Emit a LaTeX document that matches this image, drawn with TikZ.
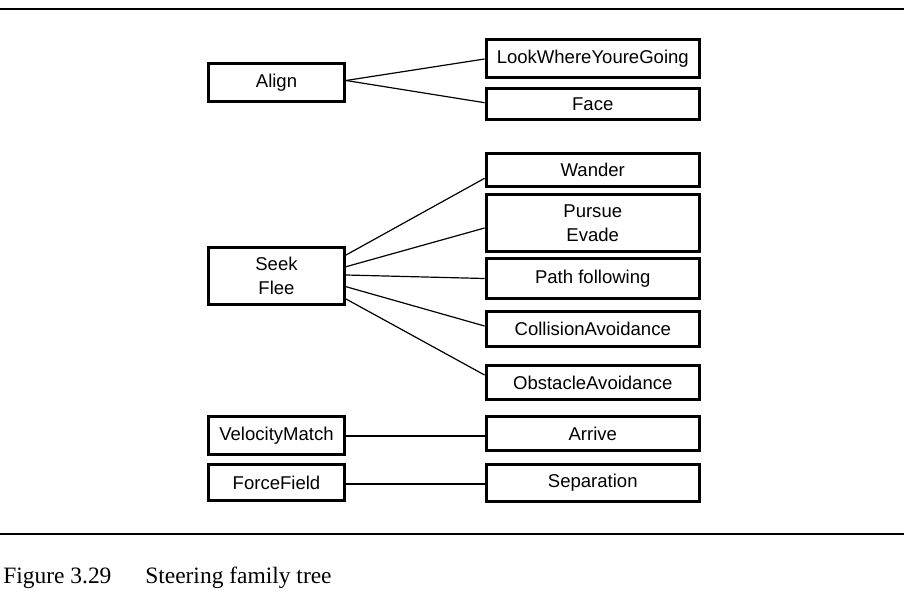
\documentclass[tikz,border=0pt]{standalone}
\usepackage{fontspec}
\setmainfont{Liberation Serif}
\newfontfamily\famfont{Liberation Sans}
\usetikzlibrary{calc}

\begin{document}
\begin{tikzpicture}[x=0.75pt,y=0.75pt,yscale=-1,
  fambox/.style={draw, line width=2.5pt, inner sep=0.75pt, align=center,
    font=\famfont\fontsize{13.9}{17.6}\selectfont},
  famleft/.style={fambox, minimum width=101.8pt},
  famright/.style={fambox, minimum width=159.8pt},
  famlink/.style={line width=0.9pt}]
\useasboundingbox (0,0) rectangle (923,596);

%Straight Lines
\draw [line width=1pt]    (0,9) -- (904,9) ;
%Straight Lines
\draw [line width=1pt]    (0,534) -- (904,534) ;

%Shape: Rectangle
\node [famleft, minimum height=28.3pt] (align) at (276.5,82.5) {Align};
\node [famleft, minimum height=42.5pt] (seek) at (276.5,276) {Seek\\Flee};
\node [famleft, minimum height=28.3pt] (velmatch) at (276.5,435.5) {VelocityMatch};
\node [famleft, minimum height=26.8pt] (forcefield) at (276.5,482.5) {ForceField};

%Shape: Rectangle
\node [famright, minimum height=28.3pt] (lookwhere) at (592.75,58.5) {LookWhereYoureGoing};
\node [famright, minimum height=23pt] (face) at (592.75,104) {Face};
\node [famright, minimum height=24.5pt] (wander) at (592.75,170) {Wander};
\node [famright, minimum height=42.5pt] (pursue) at (592.75,223) {Pursue\\Evade};
\node [famright, minimum height=29.8pt] (pathfollow) at (592.75,278.5) {Path following};
\node [famright, minimum height=26pt] (collision) at (592.75,329) {CollisionAvoidance};
\node [famright, minimum height=25.3pt] (obstacle) at (592.75,382.5) {ObstacleAvoidance};
\node [famright, minimum height=25.3pt] (arrive) at (592.75,433.5) {Arrive};
\node [famright, minimum height=27.5pt] (separation) at (592.75,483) {Separation};

%Straight Lines
\draw [famlink]    ($(align.east)+(0,-2)$) -- ($(lookwhere.west)+(0,0.5)$) ;
\draw [famlink]    ($(align.east)+(0,-2)$) -- ($(face.west)+(0,-1.3)$) ;
%Straight Lines
\draw [famlink]    ($(seek.east)+(0,-21)$) -- ($(wander.west)+(0,8.3)$) ;
\draw [famlink]    ($(seek.east)+(0,-9.3)$) -- ($(pursue.west)+(0,5)$) ;
\draw [famlink]    ($(seek.east)+(0,-1)$) -- ($(pathfollow.west)+(0,0)$) ;
\draw [famlink]    ($(seek.east)+(0,10.7)$) -- ($(collision.west)+(0,-3)$) ;
\draw [famlink]    ($(seek.east)+(0,23)$) -- ($(obstacle.west)+(0,-7.5)$) ;
%Straight Lines
\draw [famlink]    ($(velmatch.east)+(0,0.5)$) -- ($(arrive.west)+(0,2.5)$) ;
\draw [famlink]    ($(forcefield.east)+(0,1.5)$) -- ($(separation.west)+(0,1)$) ;

% Text Node
\node [anchor=base west, inner sep=0pt, font=\fontsize{17.6}{21}\selectfont] (fignum) at (3,583.3) {Figure 3.29};
% Text Node
\node [anchor=base west, inner sep=0pt, font=\fontsize{17.6}{21}\selectfont] (figtitle) at (145,583.3) {Steering family tree};
\end{tikzpicture}
\end{document}
